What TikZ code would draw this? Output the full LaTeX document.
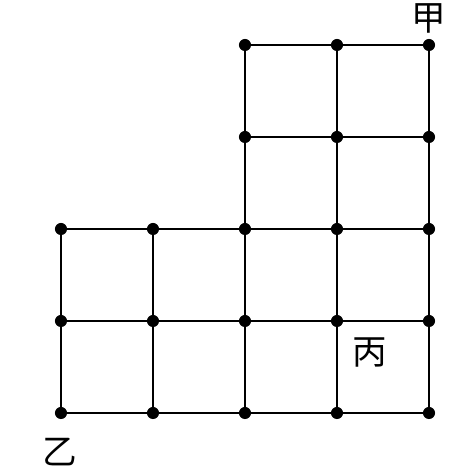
\documentclass[tikz,border=0pt]{standalone}
\usepackage{fontspec}
\newfontfamily\cjk{Noto Sans CJK SC}

\begin{document}
\begin{tikzpicture}[x=2.43cm,y=2.43cm,
    dot/.style={circle,fill,inner sep=0pt,minimum size=0.32cm},
    edge/.style={line width=1.6pt},
    lbl/.style={font={\fontsize{26}{26}\cjk}}]

    \useasboundingbox (-0.663,-0.674) rectangle (4.239,4.489);

    % lattice points
    \foreach \i in {0,...,4}
        \foreach \j in {0,1,2}
            \node[dot] (p\i\j) at (\i,\j) {};
    \foreach \i in {2,3,4}
        \foreach \j in {3,4}
            \node[dot] (p\i\j) at (\i,\j) {};

    % horizontal edges
    \foreach \j in {0,1,2}
        \draw[edge] (p0\j) -- (p1\j) -- (p2\j) -- (p3\j) -- (p4\j);
    \foreach \j in {3,4}
        \draw[edge] (p2\j) -- (p3\j) -- (p4\j);

    % vertical edges
    \foreach \i in {0,1}
        \draw[edge] (p\i0) -- (p\i1) -- (p\i2);
    \foreach \i in {2,3,4}
        \draw[edge] (p\i0) -- (p\i1) -- (p\i2) -- (p\i3) -- (p\i4);

    % labels
    \node[lbl] (jia) at (4,4.293) {甲};
    \node[lbl] (yi) at (-0.01,-0.424) {乙};
    \node[lbl] (bing) at (3.359,0.663) {丙};

\end{tikzpicture}
\end{document}
